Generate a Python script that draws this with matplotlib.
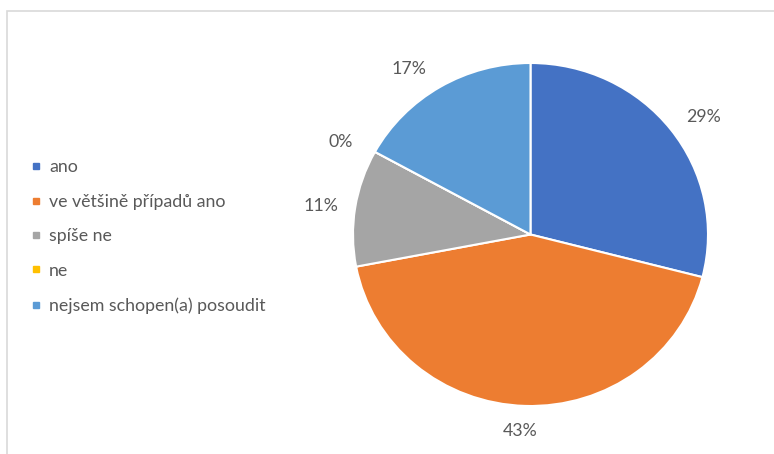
import numpy as np
import matplotlib.pyplot as plt
from matplotlib.lines import Line2D
from matplotlib.patches import Rectangle

labels = ["ano", "ve většině případů ano", "spíše ne", "ne", "nejsem schopen(a) posoudit"]
values = [29, 43, 11, 0, 17]
colors = ["#4472C4", "#ED7D31", "#A5A5A5", "#FFC000", "#5B9BD5"]
text_color = "#595959"

plt.rcParams['font.family'] = ['Lato', 'DejaVu Sans']
fs = 12.8

W, H = 774, 454
fig = plt.figure(figsize=(W / 100, H / 100), dpi=100)

# pie is slightly wider than tall in the reference
cx, cy = 530.5, 454 - 234.5
rx, ry = 177.5, 171.5
lim = 1.3
ax = fig.add_axes([(cx - lim * rx) / W, (cy - lim * ry) / H, 2 * lim * rx / W, 2 * lim * ry / H])

wedges, texts, autotexts = ax.pie(
    values, colors=colors, startangle=90, counterclock=False,
    autopct='%1.0f%%',
    wedgeprops=dict(edgecolor='white', linewidth=1.5),
    textprops=dict(color=text_color, fontsize=fs),
)
ax.set_aspect('auto')
ax.set_xlim(-lim, lim)
ax.set_ylim(-lim, lim)

# outside labels placed roughly like Excel's "outside end"
for w, t in zip(wedges, autotexts):
    ang = np.deg2rad((w.theta1 + w.theta2) / 2)
    c, s = np.cos(ang), np.sin(ang)
    t.set_position((1.046 * c + 0.15 * np.clip(5 * c, -1, 1), 1.135 * s - 0.01))
    t.set_ha('center')
    t.set_va('center')

# chart area border (only top and left visible)
fig.add_artist(Rectangle((6.5 / W, -0.1), 1.2, (H - 10.5) / H + 0.1,
                         transform=fig.transFigure, fill=False,
                         edgecolor='#D9D9D9', linewidth=1.2))

handles = [Line2D([], [], marker='s', linestyle='', markersize=4.5,
                  markerfacecolor=c, markeredgecolor=c) for c in colors]
leg = fig.legend(handles, labels, loc='center left', bbox_to_anchor=(31 / W, (H - 236.5) / H),
                 frameon=False, fontsize=fs, labelspacing=1.04,
                 handlelength=0.6, handletextpad=0.42, borderpad=0, borderaxespad=0)
for t in leg.get_texts():
    t.set_color(text_color)

fig.savefig('out.png', dpi=100)
